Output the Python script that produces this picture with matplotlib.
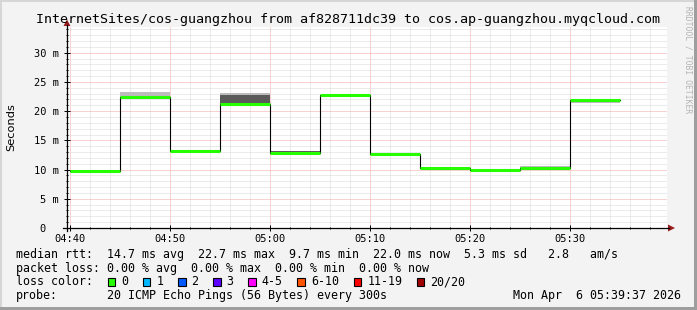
import numpy as np
import pandas as pd
import matplotlib
matplotlib.use("Agg")
import matplotlib.pyplot as plt
import matplotlib.dates as mdates
from matplotlib.ticker import MultipleLocator, FuncFormatter
from matplotlib.patches import Rectangle, Polygon
from matplotlib.lines import Line2D

# graph window (smokeping "last hour")
day = "2026-04-06"
graph_start = "04:39:44"
graph_end = "05:39:44"

# rrd rows: end of each 5 min step
step_end = ["04:45", "04:50", "04:55", "05:00", "05:05", "05:10",
            "05:15", "05:20", "05:25", "05:30", "05:35"]
median = [9.8, 22.5, 13.1, 21.2, 12.8, 22.7, 12.6, 10.3, 10.0, 10.3, 21.9]
smoke_lo = [9.8, 22.5, 13.1, 21.2, 12.8, 22.7, 12.6, 10.3, 10.0, 10.3, 21.4]
smoke_hi = [9.8, 23.2, 13.1, 23.1, 13.1, 22.7, 12.6, 10.3, 10.0, 10.6, 21.9]
core_lo = [9.8, 22.5, 13.1, 21.3, 12.8, 22.7, 12.6, 10.3, 10.0, 10.3, 21.9]
core_hi = [9.8, 22.5, 13.1, 22.8, 13.1, 22.7, 12.6, 10.3, 10.0, 10.3, 21.9]

title = "InternetSites/cos-guangzhou from af828711dc39 to cos.ap-guangzhou.myqcloud.com"
rtt_avg, rtt_max, rtt_min, rtt_now, rtt_sd, rtt_ams = 14.7, 22.7, 9.7, 22.0, 5.3, 2.8
loss_avg, loss_max, loss_min, loss_now = 0.0, 0.0, 0.0, 0.0
loss_labels = ["0", "1", "2", "3", "4-5", "6-10", "11-19", "20/20"]
loss_colors = ["#26ff00", "#00b8ff", "#0059ff", "#5e00ff", "#ff00ff", "#ff5500", "#ff0000", "#a10000"]
probe_txt = "20 ICMP Echo Pings (56 Bytes) every 300s"
stamp = "Mon Apr  6 05:39:37 2026"

W, H = 697, 310
MONO = "DejaVu Sans Mono"
LEG = 8.4


def fx(x):
    return x / W


def fy(y):
    return 1 - y / H


t0 = pd.Timestamp(f"{day} {graph_start}")
t1 = pd.Timestamp(f"{day} {graph_end}")
ends = pd.to_datetime([f"{day} {t}" for t in step_end])
starts = ends - pd.Timedelta(minutes=5)
starts = starts.where(starts > t0, t0)

x_start = mdates.date2num(starts.to_pydatetime())
x_end = mdates.date2num(ends.to_pydatetime())
widths = x_end - x_start

fig = plt.figure(figsize=(W / 100, H / 100), dpi=100, facecolor="#f3f3f3")
ax = fig.add_axes([fx(67), fy(228), 600 / W, 201 / H])
ax.set_facecolor("white")

# smoke
ax.bar(x_start, np.array(smoke_hi) - np.array(smoke_lo), width=widths, bottom=smoke_lo,
       align="edge", color="#bcbcbc", linewidth=0, zorder=2)
ax.bar(x_start, np.array(core_hi) - np.array(core_lo), width=widths, bottom=core_lo,
       align="edge", color="#5a5a5a", linewidth=0, zorder=3)

# median: black steps + loss coloured line
ax.step(np.append(x_start, x_end[-1]), np.append(median, median[-1]), where="post",
        color="black", lw=0.8, zorder=4)
ax.hlines(median, x_start, x_end, colors=loss_colors[0], lw=2.2, zorder=5)

ax.set_xlim(mdates.date2num(t0.to_pydatetime()), mdates.date2num(t1.to_pydatetime()))
ax.set_ylim(0, 34.4)

ax.xaxis.set_major_locator(mdates.MinuteLocator(byminute=range(0, 60, 10)))
ax.xaxis.set_minor_locator(mdates.MinuteLocator(byminute=range(0, 60, 2)))
ax.xaxis.set_major_formatter(mdates.DateFormatter("%H:%M"))
ax.yaxis.set_major_locator(MultipleLocator(5))
ax.yaxis.set_minor_locator(MultipleLocator(1))
ax.yaxis.set_major_formatter(FuncFormatter(lambda v, p: "0  " if v == 0 else f"{v:.0f} m"))

ax.set_axisbelow(True)
ax.grid(which="minor", color="#d9d9d9", lw=0.72, ls=(0, (1, 1)))
ax.grid(which="major", color="#f3a5a5", lw=0.72, ls=(0, (1, 1)))

for s in ax.spines.values():
    s.set_visible(False)
ax.tick_params(which="major", direction="inout", length=4, width=0.72, color="black",
               labelsize=7.5, pad=2)
ax.tick_params(which="minor", direction="inout", length=2, width=0.72, color="black")
ax.tick_params(axis="y", which="major", pad=4)
for lab in ax.get_xticklabels() + ax.get_yticklabels():
    lab.set_family(MONO)

# axes lines and arrows
fig.add_artist(Line2D([fx(63), fx(669)], [fy(228), fy(228)], color="black", lw=0.9))
fig.add_artist(Line2D([fx(67), fx(67)], [fy(231), fy(25)], color="black", lw=0.9))
fig.add_artist(Polygon([[fx(668), fy(224.5)], [fx(668), fy(231.5)], [fx(675), fy(228)]],
                       closed=True, color="#9b1c1c", lw=0))
fig.add_artist(Polygon([[fx(63.5), fy(26)], [fx(70.5), fy(26)], [fx(67), fy(19.5)]],
                       closed=True, color="#9b1c1c", lw=0))

# texts
fig.text(fx(348), fy(19), title, family=MONO, fontsize=9.6, ha="center", va="center")
fig.text(fx(11), fy(127), "Seconds", fontsize=8.2, rotation=90, ha="center", va="center")
fig.text(fx(688), fy(60), "RRDTOOL / TOBI OETIKER", family=MONO, fontsize=5.8,
         rotation=270, ha="center", va="center", color="#b4b4b4")

lx = 16
cw = LEG / 72 * 100 * 0.602
line1 = (f"median rtt:  {rtt_avg:.1f} ms avg  {rtt_max:.1f} ms max  {rtt_min:.1f} ms min  "
         f"{rtt_now:.1f} ms now  {rtt_sd:.1f} ms sd   {rtt_ams:.1f}   am/s")
line2 = (f"packet loss: {loss_avg:.2f} % avg  {loss_max:.2f} % max  "
         f"{loss_min:.2f} % min  {loss_now:.2f} % now")
fig.text(fx(lx), fy(254.5), line1, family=MONO, fontsize=LEG, va="center")
fig.text(fx(lx), fy(268.2), line2, family=MONO, fontsize=LEG, va="center")
fig.text(fx(lx), fy(281.9), "loss color:", family=MONO, fontsize=LEG, va="center")
col = 13
for lab, c in zip(loss_labels, loss_colors):
    x = lx + col * cw
    fig.add_artist(Rectangle((fx(x + 0.5), fy(286)), 7.5 / W, 8 / H, facecolor=c,
                             edgecolor="black", lw=0.8))
    fig.text(fx(lx + (col + 2) * cw), fy(281.9), lab, family=MONO, fontsize=LEG, va="center")
    col += 2 + len(lab) + 2
fig.text(fx(lx), fy(295.6), "probe:", family=MONO, fontsize=LEG, va="center")
fig.text(fx(lx + 13 * cw), fy(295.6), probe_txt, family=MONO, fontsize=LEG, va="center")
fig.text(fx(681), fy(295.6), stamp, family=MONO, fontsize=LEG, va="center", ha="right")

# frame shading
fig.add_artist(Rectangle((0, 0), fx(2), 1, facecolor="#d6d6d6", lw=0))
fig.add_artist(Rectangle((0, fy(2)), 1, 2 / H, facecolor="#d6d6d6", lw=0))
fig.add_artist(Rectangle((fx(694), 0), 3 / W, 1, facecolor="#9e9e9e", lw=0))
fig.add_artist(Rectangle((0, 0), 1, 3 / H, facecolor="#9e9e9e", lw=0))

plt.savefig("out.png", dpi=100, facecolor=fig.get_facecolor())
